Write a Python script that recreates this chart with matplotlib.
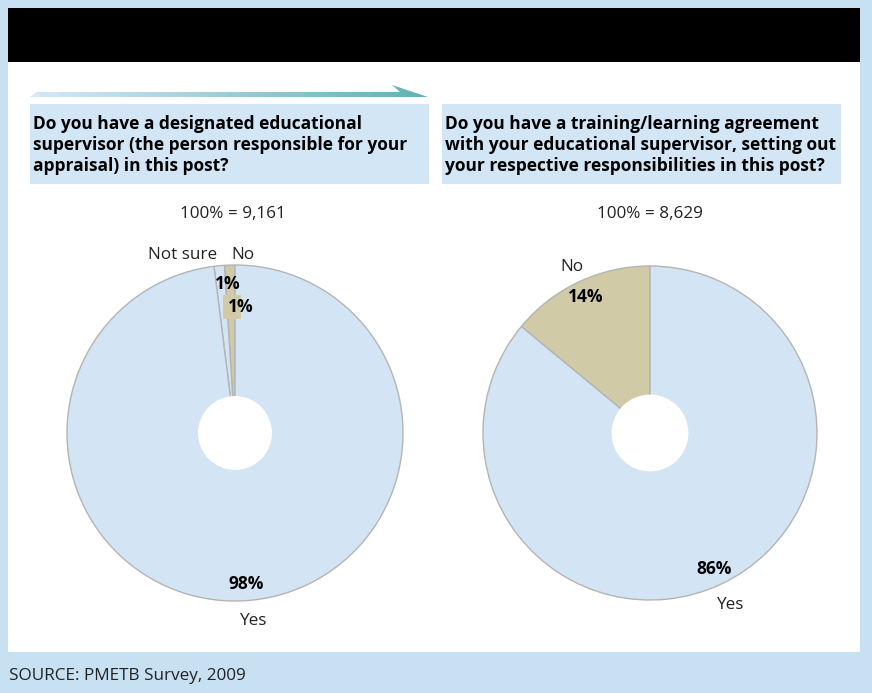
import matplotlib
matplotlib.use("Agg")
import matplotlib.pyplot as plt
import numpy as np
from matplotlib.patches import Rectangle, Polygon, Circle
from matplotlib.colors import LinearSegmentedColormap

plt.rcParams['font.family'] = ['Open Sans', 'DejaVu Sans']

# Survey results
q1_title = "Do you have a designated educational\nsupervisor (the person responsible for your\nappraisal) in this post?"
q1_base = "100% = 9,161"
q1_labels = ["No", "Not sure", "Yes"]
q1_values = [1, 1, 98]

q2_title = "Do you have a training/learning agreement\nwith your educational supervisor, setting out\nyour respective responsibilities in this post?"
q2_base = "100% = 8,629"
q2_labels = ["No", "Yes"]
q2_values = [14, 86]

source = "SOURCE: PMETB Survey, 2009"

OUTER = "#c7e1f3"
BOX = "#d3e6f5"
BLUE = "#d3e5f5"
TAN = "#d0caa6"
EDGE = "#b4b4b4"
FS = 12.3
FSB = 12.5

W, H = 872, 693
fig = plt.figure(figsize=(W / 100, H / 100), dpi=100)
fig.patch.set_facecolor(OUTER)

# Background layer in pixel coordinates (y measured downward)
bg = fig.add_axes([0, 0, 1, 1])
bg.set_xlim(0, W)
bg.set_ylim(H, 0)
bg.axis("off")
bg.add_patch(Rectangle((8, 8), 852, 644, facecolor="white", edgecolor="none"))
bg.add_patch(Rectangle((8, 8), 852, 54, facecolor="black", edgecolor="none"))

# Gradient arrow
grad = np.linspace(0, 1, 256).reshape(1, -1)
cmap = LinearSegmentedColormap.from_list("arr", ["#d6e9f7", "#62b1b3"])
arrow = Polygon([(30, 97), (37, 92), (400, 92), (392, 85), (428, 97)], closed=True,
                facecolor="none", edgecolor="none")
bg.add_patch(arrow)
img = bg.imshow(grad, cmap=cmap, extent=(30, 428, 97, 85), aspect="auto", zorder=2)
img.set_clip_path(arrow)

# Question boxes
for x0, text in [(30, q1_title), (442, q2_title)]:
    bg.add_patch(Rectangle((x0, 104), 399, 80, facecolor=BOX, edgecolor="none"))
    bg.text(x0 + 3, 145, text, fontsize=12.5, fontweight="bold", va="center",
            ha="left", linespacing=1.2, color="black")

bg.text(233, 214, q1_base, fontsize=FS, ha="center", va="center", color="#222222")
bg.text(650, 214, q2_base, fontsize=FS, ha="center", va="center", color="#222222")
bg.text(9, 676, source, fontsize=FS, ha="left", va="center", color="#222222")


def pie_axes(cx, cy, r):
    half = 1.25 * r
    return fig.add_axes([(cx - half) / W, (H - cy - half) / H, 2 * half / W, 2 * half / H])


def polar(ang_deg, rad):
    a = np.deg2rad(ang_deg)
    return rad * np.cos(a), rad * np.sin(a)


# Left donut
ax1 = pie_axes(235, 433, 168)
w1, _ = ax1.pie(q1_values, colors=[TAN, BLUE, BLUE], startangle=90, counterclock=True,
                wedgeprops=dict(edgecolor=EDGE, linewidth=1.0))
ax1.add_patch(Circle((0, 0), 0.22, facecolor="white", edgecolor="none", zorder=5))
ang = 90 + np.cumsum([0] + q1_values[:-1]) * 3.6 + np.array(q1_values) * 1.8
# Yes
x, y = polar(ang[2], 0.9)
ax1.text(x + 0.01, y, f"{q1_values[2]}%", fontsize=FSB, fontweight="bold", ha="center", va="center")
x, y = polar(ang[2], 1.12)
ax1.text(x + 0.04, y, q1_labels[2], fontsize=FS, ha="center", va="center", color="#222222")
# Not sure
x, y = polar(ang[1], 0.89)
ax1.text(x + 0.04, y, f"{q1_values[1]}%", fontsize=FSB, fontweight="bold", ha="center", va="center")
ax1.text(-0.315, 1.06, q1_labels[1], fontsize=FS, ha="center", va="center", color="#222222")
# No
x, y = polar(ang[0], 0.75)
ax1.add_patch(Rectangle((x - 0.047, y - 0.074), 0.107, 0.148, facecolor=TAN,
                        edgecolor="none", zorder=3))
ax1.text(x + 0.055, y, f"{q1_values[0]}%", fontsize=FSB, fontweight="bold", ha="center",
         va="center", zorder=4)
ax1.text(0.045, 1.06, q1_labels[0], fontsize=FS, ha="center", va="center", color="#222222")

# Right donut
ax2 = pie_axes(650, 433, 167)
w2, _ = ax2.pie(q2_values, colors=[TAN, BLUE], startangle=90, counterclock=True,
                wedgeprops=dict(edgecolor=EDGE, linewidth=1.0))
ax2.add_patch(Circle((0, 0), 0.23, facecolor="white", edgecolor="none", zorder=5))
ang2 = 90 + np.cumsum([0] + q2_values[:-1]) * 3.6 + np.array(q2_values) * 1.8
x, y = polar(ang2[0], 0.9)
ax2.text(x, y, f"{q2_values[0]}%", fontsize=FSB, fontweight="bold", ha="center", va="center")
x, y = polar(ang2[0], 1.1)
ax2.text(x, y, q2_labels[0], fontsize=FS, ha="center", va="center", color="#222222")
x, y = polar(ang2[1], 0.9)
ax2.text(x, y, f"{q2_values[1]}%", fontsize=FSB, fontweight="bold", ha="center", va="center")
x, y = polar(ang2[1], 1.14)
ax2.text(x, y, q2_labels[1], fontsize=FS, ha="center", va="center", color="#222222")

fig.savefig("out.png", dpi=100, facecolor=fig.get_facecolor())
